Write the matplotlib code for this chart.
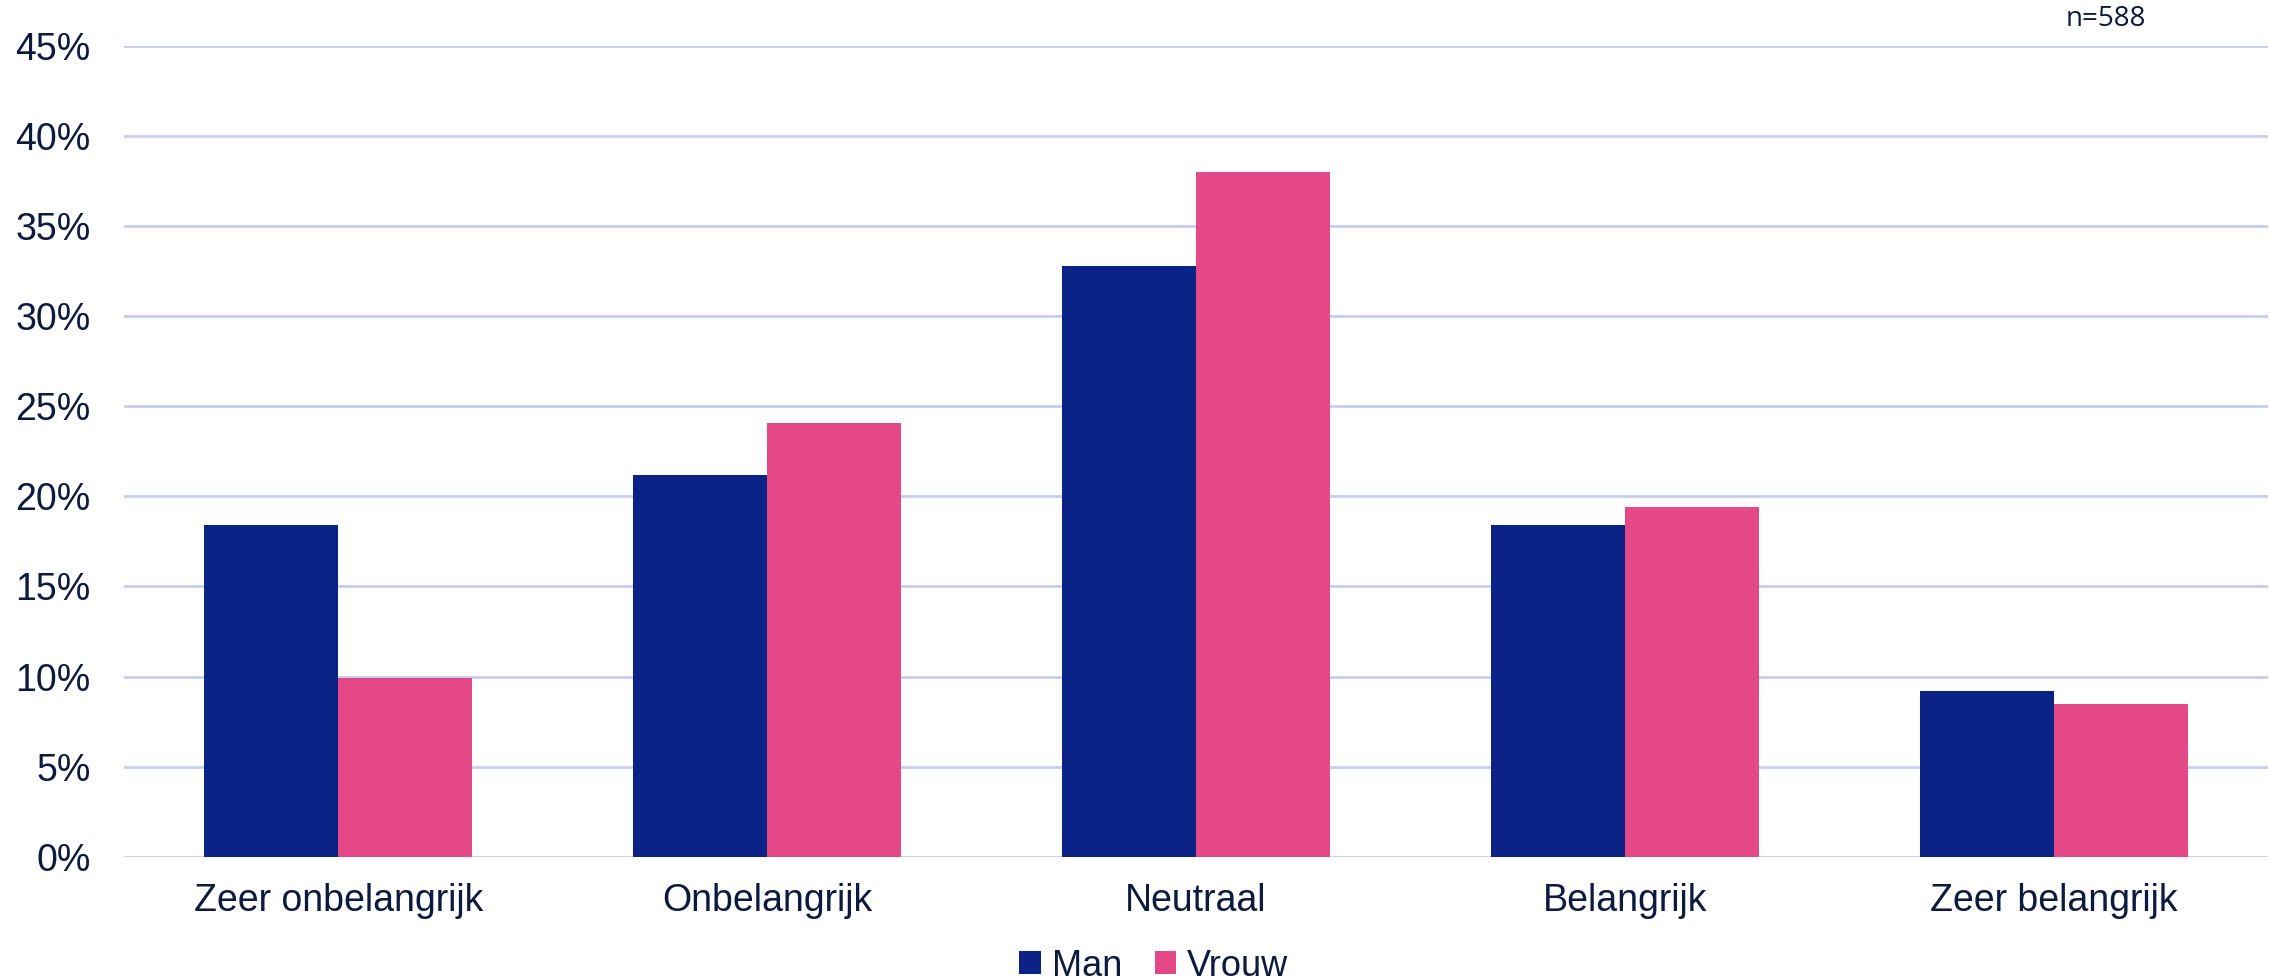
import matplotlib.pyplot as plt
import numpy as np

categories = ["Zeer onbelangrijk", "Onbelangrijk", "Neutraal", "Belangrijk", "Zeer belangrijk"]
man = [18.4, 21.2, 32.8, 18.4, 9.2]
vrouw = [9.9, 24.1, 38.0, 19.4, 8.5]
yticks = [0, 5, 10, 15, 20, 25, 30, 35, 40, 45]

text_col = "#0d1a40"
plt.rcParams['font.family'] = ['Liberation Sans', 'DejaVu Sans']

fig = plt.figure(figsize=(22.7, 9.8), dpi=100)
ax = fig.add_axes([124 / 2270, 0.126, (2268 - 124) / 2270, 0.9526 - 0.126])

x = np.arange(len(categories))
w = 0.3125
ax.bar(x - w / 2, man, w, color="#0b2286", label="Man", zorder=3)
ax.bar(x + w / 2, vrouw, w, color="#e44886", label="Vrouw", zorder=3)

ax.set_xlim(-0.5, len(categories) - 0.5)
ax.set_ylim(0, 45)
ax.set_yticks(yticks)
ax.set_yticklabels([f"{t}%" for t in yticks])
ax.set_xticks(x)
ax.set_xticklabels(categories)
ax.tick_params(axis="both", length=0, labelsize=27, colors=text_col)
ax.tick_params(axis="y", pad=24)
ax.tick_params(axis="x", pad=19)
ax.grid(axis="y", color="#c5cdf5", linewidth=2, zorder=0)
for s in ax.spines.values():
    s.set_visible(False)

fig.legend(loc="center", bbox_to_anchor=(1154 / 2270, 1 - 966 / 980), ncol=2,
           frameon=False, fontsize=26, labelcolor=text_col, handlelength=0.6,
           handleheight=0.6, handletextpad=0.3, columnspacing=0.9)
fig.text(2106 / 2270, 1 - 19 / 980, "n=588", ha="center", va="center",
         fontsize=20, color=text_col, family=["Open Sans", "DejaVu Sans"])

fig.savefig("out.png", dpi=100)
